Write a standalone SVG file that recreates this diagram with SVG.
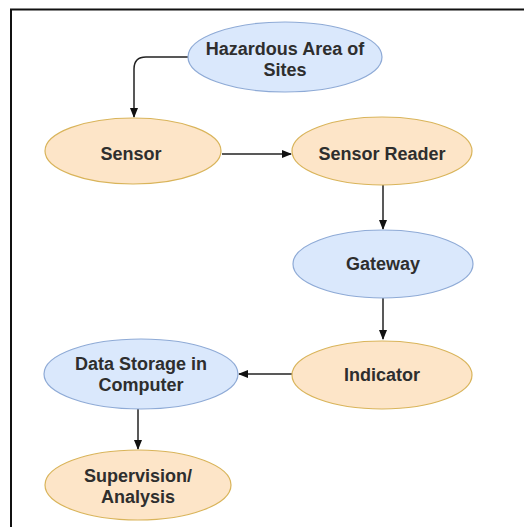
<svg xmlns="http://www.w3.org/2000/svg" width="524" height="527" viewBox="0 0 524 527">
<defs>
<style>
.blue{fill:#dae8fc;stroke:#8eaad6;stroke-width:1.2}
.orange{fill:#fde5c8;stroke:#d9b45a;stroke-width:1.2}
.t{font-family:"Liberation Sans",Arial,sans-serif;font-weight:bold;font-size:18px;fill:#2e2e2e;text-anchor:middle}
.c{fill:none;stroke:#222;stroke-width:1.5}
</style>
<marker id="ah" markerWidth="10" markerHeight="10" refX="9" refY="5" orient="auto" markerUnits="userSpaceOnUse">
<path d="M0,1 L10,5 L0,9 Z" fill="#111"/>
</marker>
</defs>
<rect x="0" y="0" width="524" height="527" fill="#fff"/>
<path d="M11,527 L11,9.5 L524,9.5" fill="none" stroke="#111" stroke-width="2"/>
<g id="connectors">
<path class="c" d="M188,57 L146,57 Q134,57 134,69 L134,117" marker-end="url(#ah)"/>
<path class="c" d="M222,154 L291,154" marker-end="url(#ah)"/>
<path class="c" d="M383,185 L383,229" marker-end="url(#ah)"/>
<path class="c" d="M383,298 L383,339" marker-end="url(#ah)"/>
<path class="c" d="M292,374 L239,374" marker-end="url(#ah)"/>
<path class="c" d="M138,409 L138,449" marker-end="url(#ah)"/>
</g>
<g id="hazardous">
<ellipse class="blue" cx="285" cy="57" rx="97" ry="35"/>
<text class="t" x="285" y="55">Hazardous Area of</text>
<text class="t" x="285" y="76">Sites</text>
</g>
<g id="sensor">
<ellipse class="orange" cx="133" cy="151" rx="88" ry="33"/>
<text class="t" x="131" y="160">Sensor</text>
</g>
<g id="sensor-reader">
<ellipse class="orange" cx="382" cy="151" rx="90" ry="34"/>
<text class="t" x="382" y="160">Sensor Reader</text>
</g>
<g id="gateway">
<ellipse class="blue" cx="383" cy="264" rx="90" ry="34"/>
<text class="t" x="383" y="270">Gateway</text>
</g>
<g id="indicator">
<ellipse class="orange" cx="382" cy="375" rx="90" ry="34"/>
<text class="t" x="382" y="381">Indicator</text>
</g>
<g id="data-storage">
<ellipse class="blue" cx="141" cy="374" rx="97" ry="35"/>
<text class="t" x="141" y="370">Data Storage in</text>
<text class="t" x="141" y="391">Computer</text>
</g>
<g id="supervision">
<ellipse class="orange" cx="138" cy="485" rx="93" ry="35"/>
<text class="t" x="138" y="482">Supervision/</text>
<text class="t" x="138" y="503">Analysis</text>
</g>
</svg>
